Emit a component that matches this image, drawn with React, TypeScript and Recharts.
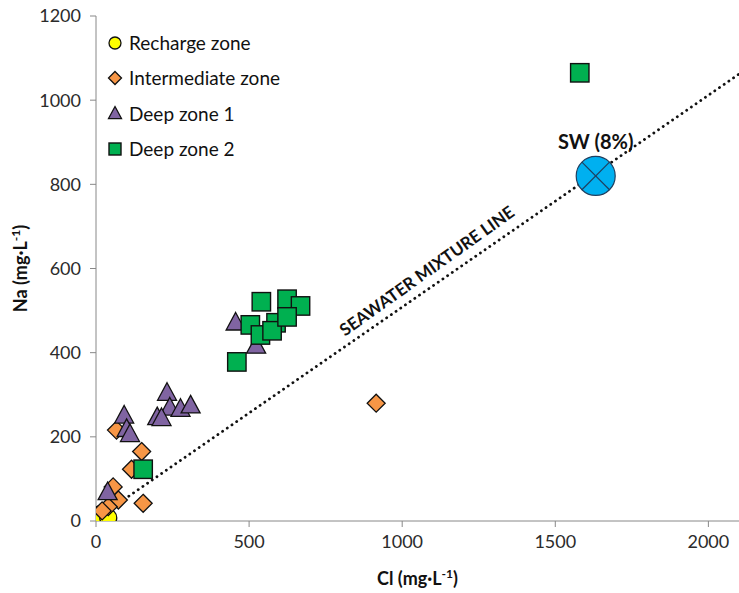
import React from 'react';
import {
  ScatterChart,
  Scatter,
  XAxis,
  YAxis,
  Legend,
  ReferenceDot,
} from 'recharts';

const FONT = 'Lato, "Open Sans", sans-serif';

const xTicks = [0, 500, 1000, 1500, 2000];
const yTicks = [0, 200, 400, 600, 800, 1000, 1200];

const rechargeZone = [
  { x: 15, y: 16 },
  { x: 40, y: 8 },
];

const intermediateZone = [
  { x: 67, y: 216 },
  { x: 149, y: 165 },
  { x: 116, y: 123 },
  { x: 154, y: 42 },
  { x: 56, y: 81 },
  { x: 73, y: 50 },
  { x: 40, y: 34 },
  { x: 20, y: 24 },
  { x: 915, y: 280 },
];

const deepZone1 = [
  { x: 232, y: 306 },
  { x: 241, y: 271 },
  { x: 276, y: 268 },
  { x: 309, y: 276 },
  { x: 200, y: 248 },
  { x: 214, y: 246 },
  { x: 92, y: 252 },
  { x: 100, y: 220 },
  { x: 111, y: 208 },
  { x: 38, y: 70 },
  { x: 456, y: 473 },
  { x: 523, y: 418 },
];

const deepZone2 = [
  { x: 460, y: 378 },
  { x: 154, y: 123 },
  { x: 504, y: 466 },
  { x: 537, y: 442 },
  { x: 540, y: 521 },
  { x: 588, y: 471 },
  { x: 575, y: 452 },
  { x: 624, y: 527 },
  { x: 668, y: 511 },
  { x: 624, y: 485 },
  { x: 1580, y: 1065 },
];

const seawater = [{ x: 1632, y: 820 }];
const mixingLine = [
  { x: 0, y: 5 },
  { x: 2100, y: 1062 },
];
const mixingLabelAt = { x: 1084, y: 591 };

const COLORS = {
  recharge: '#FFFF00',
  intermediate: '#F79646',
  deep1: '#8064A2',
  deep2: '#00B050',
  sw: '#00B0F0',
};

const EDGE = '#111';

const Circle = ({ cx, cy, fill, r = 8.5 }: any) => (
  <circle cx={cx} cy={cy} r={r} fill={fill} stroke={EDGE} strokeWidth={1.3} />
);

const Diamond = ({ cx, cy, fill, s = 9 }: any) => (
  <polygon
    points={`${cx},${cy - s} ${cx + s},${cy} ${cx},${cy + s} ${cx - s},${cy}`}
    fill={fill}
    stroke={EDGE}
    strokeWidth={1.3}
  />
);

const Triangle = ({ cx, cy, fill, s = 9.5 }: any) => (
  <polygon
    points={`${cx},${cy - s} ${cx + s},${cy + s * 0.85} ${cx - s},${cy + s * 0.85}`}
    fill={fill}
    stroke={EDGE}
    strokeWidth={1.3}
  />
);

const Square = ({ cx, cy, fill, s = 9.2 }: any) => (
  <rect x={cx - s} y={cy - s} width={s * 2} height={s * 2} fill={fill} stroke={EDGE} strokeWidth={1.4} />
);

const SeawaterMark = ({ cx, cy }: any) => {
  const r = 19.5;
  const d = r / Math.SQRT2;
  return (
    <g>
      <circle cx={cx} cy={cy} r={r} fill={COLORS.sw} stroke="#1F3F5F" strokeWidth={1.2} />
      <line x1={cx - d} y1={cy - d} x2={cx + d} y2={cy + d} stroke="#1F3F5F" strokeWidth={1.2} />
      <line x1={cx - d} y1={cy + d} x2={cx + d} y2={cy - d} stroke="#1F3F5F" strokeWidth={1.2} />
      <text x={cx} y={cy - 27} textAnchor="middle" fontFamily={FONT} fontWeight={700} fontSize={20} fill="#111">
        SW (8%)
      </text>
    </g>
  );
};

const legendItems = [
  { name: 'Recharge zone', icon: (x: number, y: number) => <Circle cx={x} cy={y} r={6} fill={COLORS.recharge} /> },
  { name: 'Intermediate zone', icon: (x: number, y: number) => <Diamond cx={x} cy={y} s={6.5} fill={COLORS.intermediate} /> },
  { name: 'Deep zone 1', icon: (x: number, y: number) => <Triangle cx={x} cy={y} s={6.5} fill={COLORS.deep1} /> },
  { name: 'Deep zone 2', icon: (x: number, y: number) => <Square cx={x} cy={y} s={6} fill={COLORS.deep2} /> },
];

const LegendBox = () => (
  <div style={{ fontFamily: FONT, fontSize: 19, color: '#111' }}>
    {legendItems.map((it) => (
      <div key={it.name} style={{ display: 'flex', alignItems: 'center', height: 35.3 }}>
        <svg width={18} height={18} style={{ marginRight: 5 }}>
          {it.icon(9, 9)}
        </svg>
        <span>{it.name}</span>
      </div>
    ))}
  </div>
);

const YLabel = ({ viewBox }: any) => {
  const cy = viewBox.y + viewBox.height / 2;
  return (
    <text x={27} y={cy} transform={`rotate(-90, 27, ${cy})`} textAnchor="middle" fontFamily={FONT} fontWeight={700} fontSize={18} fill="#111">
      Na (mg·L<tspan dy={-7} fontSize={12}>-1</tspan>
      <tspan dy={7}>)</tspan>
    </text>
  );
};

const XLabel = ({ viewBox }: any) => {
  const cx = viewBox.x + viewBox.width / 2;
  return (
    <text x={cx} y={585} textAnchor="middle" fontFamily={FONT} fontWeight={700} fontSize={18} fill="#111">
      Cl (mg·L<tspan dy={-7} fontSize={12}>-1</tspan>
      <tspan dy={7}>)</tspan>
    </text>
  );
};

const MixLabel = ({ viewBox }: any) => {
  const cx = viewBox.x + viewBox.width / 2;
  const cy = viewBox.y + viewBox.height / 2;
  return (
    <text
      x={cx}
      y={cy}
      transform={`rotate(-35.5, ${cx}, ${cy})`}
      textAnchor="middle"
      dominantBaseline="middle"
      fontFamily={FONT}
      fontWeight={700}
      fontSize={17}
      fill="#111"
    >
      SEAWATER MIXTURE LINE
    </text>
  );
};

export default function App() {
  const tick = { fill: '#2b2b2b', fontSize: 18, fontFamily: FONT };
  return (
    <div style={{ position: 'absolute', left: 0, top: 0, background: '#fff' }}>
      <ScatterChart width={739} height={593} margin={{ top: 16, right: 0, bottom: 0, left: 0 }}>
        <XAxis
          type="number"
          dataKey="x"
          domain={[0, 2100]}
          ticks={xTicks}
          allowDataOverflow
          height={72}
          tickSize={6}
          tickMargin={8}
          axisLine={{ stroke: '#888' }}
          tickLine={{ stroke: '#888' }}
          tick={tick}
          label={<XLabel />}
        />
        <YAxis
          type="number"
          dataKey="y"
          domain={[0, 1200]}
          ticks={yTicks}
          allowDataOverflow
          width={96}
          tickSize={6}
          tickMargin={9}
          axisLine={{ stroke: '#888' }}
          tickLine={{ stroke: '#888' }}
          tick={tick}
          label={<YLabel />}
        />
        <Legend
          layout="vertical"
          verticalAlign="middle"
          align="center"
          content={<LegendBox />}
          wrapperStyle={{ left: 106, top: 25, width: 220 }}
        />
        <Scatter
          name="mixing"
          data={mixingLine}
          legendType="none"
          line={{ stroke: '#111', strokeWidth: 2.8, strokeDasharray: '0.1 5.6', strokeLinecap: 'round' }}
          shape={() => <g />}
          isAnimationActive={false}
        />
        <Scatter name="Recharge zone" data={rechargeZone} fill={COLORS.recharge} shape={<Circle />} isAnimationActive={false} />
        <Scatter name="Intermediate zone" data={intermediateZone} fill={COLORS.intermediate} shape={<Diamond />} isAnimationActive={false} />
        <Scatter name="Deep zone 1" data={deepZone1} fill={COLORS.deep1} shape={<Triangle />} isAnimationActive={false} />
        <Scatter name="Deep zone 2" data={deepZone2} fill={COLORS.deep2} shape={<Square />} isAnimationActive={false} />
        <Scatter name="SW" data={seawater} legendType="none" shape={<SeawaterMark />} isAnimationActive={false} />
        <ReferenceDot x={mixingLabelAt.x} y={mixingLabelAt.y} r={0} fill="none" stroke="none" label={<MixLabel />} />
      </ScatterChart>
    </div>
  );
}
